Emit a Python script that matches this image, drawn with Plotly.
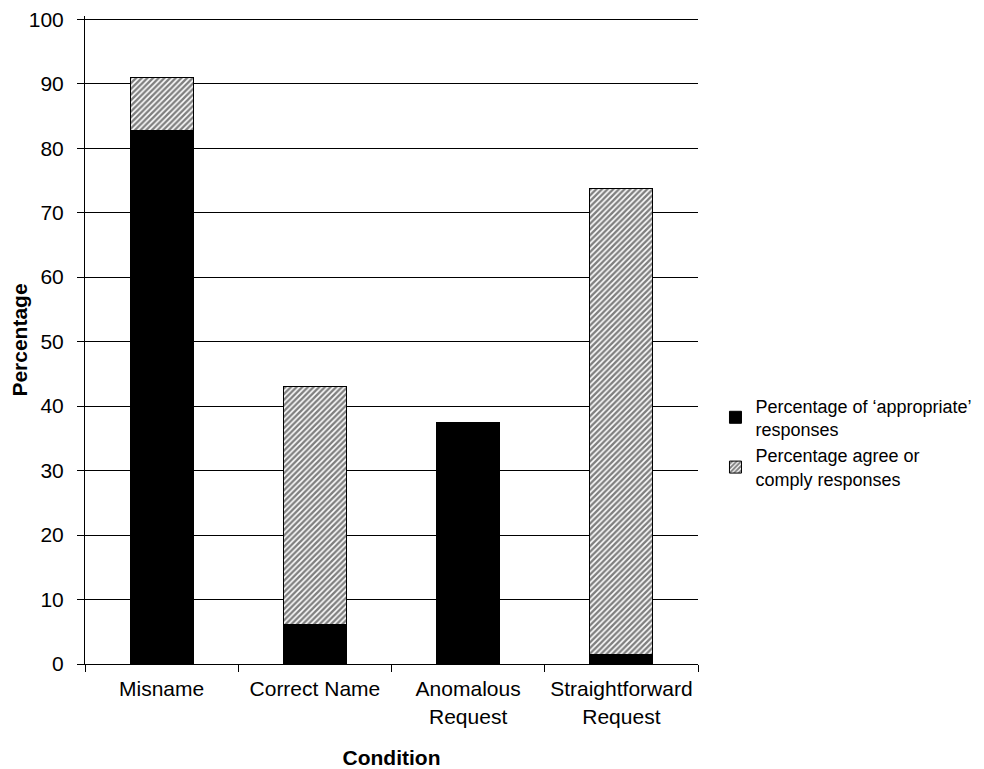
import plotly.graph_objects as go

categories = ["Misname", "Correct Name", "Anomalous<br>Request", "Straightforward<br>Request"]
appropriate = [82.7, 6.2, 37.5, 1.5]
agree_comply = [8.3, 36.8, 0.0, 72.2]
y_ticks = [0, 10, 20, 30, 40, 50, 60, 70, 80, 90, 100]

font_family = "Liberation Sans, Arial, sans-serif"

fig = go.Figure()
fig.add_trace(go.Bar(
    x=categories, y=appropriate,
    name="Percentage of ‘appropriate’<br>responses",
    legendgroup="a",
    marker=dict(color="black", line=dict(color="black", width=1)),
    width=0.41,
))
fig.add_trace(go.Bar(
    x=categories, y=agree_comply,
    name="Percentage agree or<br>comply responses",
    legendgroup="b",
    marker=dict(color="white", line=dict(color="black", width=1),
                pattern=dict(shape="/", size=4, solidity=0.6,
                             fgcolor="black", bgcolor="white")),
    width=0.41,
))

fig.update_layout(
    barmode="stack",
    width=976, height=761,
    margin=dict(l=77, r=286, t=8, b=105, autoexpand=False),
    paper_bgcolor="white", plot_bgcolor="white",
    font=dict(family=font_family, size=21, color="black"),
    showlegend=True,
    legend=dict(x=1.0285, xanchor="left", y=0.342, yanchor="middle",
                font=dict(size=18), tracegroupgap=12, traceorder="normal",
                bgcolor="rgba(0,0,0,0)"),
)
fig.update_xaxes(
    showline=True, linecolor="black", linewidth=1,
    ticks="outside", tickson="boundaries", ticklen=7, tickcolor="black",
    tickfont=dict(size=21), tickangle=0, ticklabelstandoff=6,
    title=dict(text="<b>Condition</b>", font=dict(size=21), standoff=30),
    showgrid=False, automargin=False,
)
fig.update_yaxes(
    range=[0, 100.5], tickvals=y_ticks,
    showline=True, linecolor="black", linewidth=1,
    ticks="outside", ticklen=7, tickcolor="black",
    tickfont=dict(size=21), ticklabelstandoff=9, ticklabeloverflow="allow",
    showgrid=True, gridcolor="black", gridwidth=1,
    zeroline=False, automargin=False,
    title=dict(text="<b>Percentage</b>", font=dict(size=21), standoff=2),
)

fig.write_html("out.html")
